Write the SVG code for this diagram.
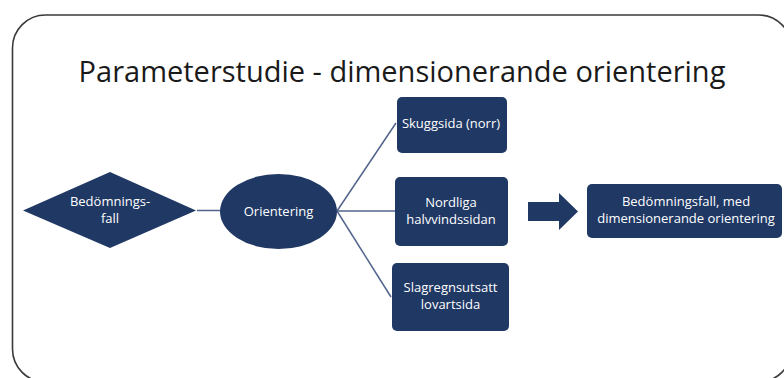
<svg xmlns="http://www.w3.org/2000/svg" width="784" height="378" viewBox="0 0 784 378">
  <defs>
    <style>
      .frame { fill: #ffffff; stroke: #3a3a3a; stroke-width: 1.6; }
      .title { font-family: "Open Sans", "Liberation Sans", sans-serif; font-size: 29px; fill: #1a1a1a; text-anchor: middle; }
      .shape { fill: #203864; }
      .label { font-family: "Open Sans", "Liberation Sans", sans-serif; font-size: 13px; fill: #ffffff; text-anchor: middle; }
      .conn { stroke: #52648c; stroke-width: 1.5; fill: none; }
    </style>
  </defs>

  <!-- outer rounded frame (runs past the right and bottom edges) -->
  <rect class="frame" x="12.5" y="15" width="779" height="367" rx="33" ry="33"/>

  <text class="title" x="402" y="82">Parameterstudie - dimensionerande orientering</text>

  <!-- connectors -->
  <g id="connectors">
    <line class="conn" x1="197" y1="210.5" x2="220" y2="210.5"/>
    <line class="conn" x1="337" y1="211" x2="396" y2="123"/>
    <line class="conn" x1="337" y1="211" x2="395" y2="211"/>
    <line class="conn" x1="337" y1="211" x2="391" y2="297"/>
  </g>

  <g id="bedomningsfall">
    <polygon class="shape" points="23,210.5 110,172 196,210.5 110,248"/>
    <text class="label" x="110" y="206">Bedömnings-</text>
    <text class="label" x="110" y="223">fall</text>
  </g>

  <g id="orientering">
    <ellipse class="shape" cx="278.5" cy="211.5" rx="58.5" ry="37.5"/>
    <text class="label" x="278.5" y="215.5">Orientering</text>
  </g>

  <g id="skuggsida">
    <rect class="shape" x="397" y="97" width="110" height="56" rx="5"/>
    <text class="label" x="451" y="128">Skuggsida (norr)</text>
  </g>

  <g id="nordliga">
    <rect class="shape" x="395" y="177" width="113" height="69" rx="5"/>
    <text class="label" x="451" y="207">Nordliga</text>
    <text class="label" x="451" y="223.5">halvvindssidan</text>
  </g>

  <g id="slagregn">
    <rect class="shape" x="392" y="263" width="117" height="68" rx="5"/>
    <text class="label" x="450.5" y="292">Slagregnsutsatt</text>
    <text class="label" x="450.5" y="309">lovartsida</text>
  </g>

  <g id="pil">
    <polygon class="shape" points="528,202 559,202 559,193 578,211.5 559,230 559,221 528,221"/>
  </g>

  <g id="resultat">
    <rect class="shape" x="587" y="184" width="195" height="54" rx="5"/>
    <text class="label" x="686" y="205.5">Bedömningsfall, med</text>
    <text class="label" x="686" y="222.5">dimensionerande orientering</text>
  </g>
</svg>
